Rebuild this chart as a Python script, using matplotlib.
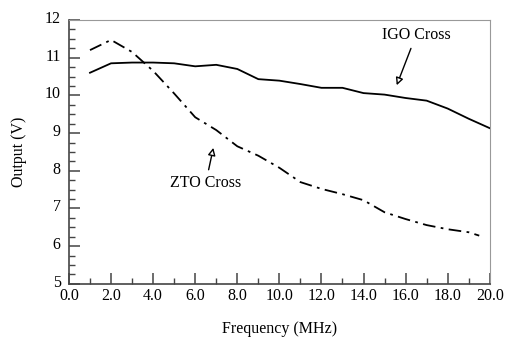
import numpy as np
import matplotlib.pyplot as plt
import matplotlib.transforms as mtransforms
from matplotlib.ticker import MultipleLocator

plt.rcParams['font.family'] = ['Liberation Serif', 'DejaVu Serif']

# measured output vs frequency
freq_igo = [1, 2, 3, 4, 5, 6, 7, 8, 9, 10, 11, 12, 13, 14, 15, 16, 17, 18, 19, 20]
out_igo = [10.60, 10.85, 10.87, 10.87, 10.85, 10.77, 10.81, 10.70, 10.43, 10.39,
           10.30, 10.20, 10.20, 10.06, 10.02, 9.93, 9.86, 9.65, 9.38, 9.13]

freq_zto = [1, 2, 3, 4, 5, 6, 7, 8, 9, 10, 11, 12, 13, 14, 15, 16, 17, 18, 19, 19.5]
out_zto = [11.20, 11.47, 11.15, 10.65, 10.05, 9.42, 9.08, 8.65, 8.40, 8.08,
           7.70, 7.52, 7.38, 7.22, 6.90, 6.72, 6.56, 6.45, 6.37, 6.28]

fig = plt.figure(figsize=(5.07, 3.38), dpi=100)
ax = fig.add_axes([0.136, 0.160, 0.830, 0.781])

ax.plot(freq_igo, out_igo, color='black', lw=1.3)
ax.plot(freq_zto, out_zto, color='black', lw=1.3, linestyle=(0, (7, 3, 1.5, 3)))

arrow = dict(arrowstyle='-|>', color='black', lw=1.0, fc='white', mutation_scale=11)
ax.annotate('IGO Cross', xy=(15.53, 10.20), xytext=(16.5, 11.6),
            ha='center', va='center', fontsize=11.5, arrowprops=arrow)
ax.annotate('ZTO Cross', xy=(6.89, 8.68), xytext=(6.5, 7.67),
            ha='center', va='center', fontsize=11.5, arrowprops=arrow)

ax.set_xlim(0, 20)
ax.set_ylim(5, 12)
ax.xaxis.set_major_locator(MultipleLocator(2))
ax.xaxis.set_minor_locator(MultipleLocator(1))
ax.yaxis.set_major_locator(MultipleLocator(1))
ax.yaxis.set_minor_locator(MultipleLocator(0.25))
ax.xaxis.set_major_formatter(plt.FormatStrFormatter('%.1f'))
ax.tick_params(which='both', direction='in', top=False, right=False,
               labelsize=11.5, color='#444444')
ax.tick_params(axis='x', pad=3)
ax.tick_params(axis='y', pad=6)
ax.tick_params(which='major', length=8, width=1.1)
ax.tick_params(which='minor', length=4, width=1.0)

# y tick labels sit a little above their ticks
shift = mtransforms.ScaledTranslation(0, 3 / 100, fig.dpi_scale_trans)
for lbl in ax.get_yticklabels():
    lbl.set_transform(lbl.get_transform() + shift)

for side in ['top', 'right']:
    ax.spines[side].set_color('#999999')
for side in ['left', 'bottom']:
    ax.spines[side].set_color('#444444')
    ax.spines[side].set_linewidth(1.2)

ax.set_xlabel('Frequency (MHz)', fontsize=11.5, labelpad=12)
ax.set_ylabel('Output (V)', fontsize=11.5, labelpad=13)

fig.savefig('out.png')
